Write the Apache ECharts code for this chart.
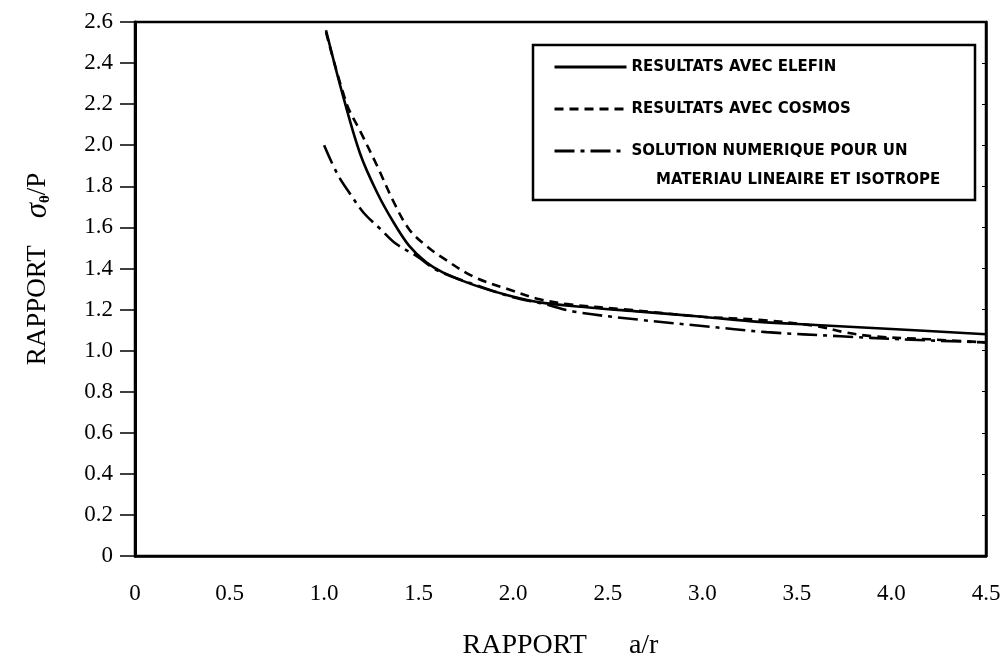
<!DOCTYPE html>
<html>
<head>
<meta charset="utf-8">
<script src="https://cdn.jsdelivr.net/npm/echarts@6/dist/echarts.min.js"></script>
<style>
  html, body { margin: 0; padding: 0; background: #fff; }
  #chart { width: 1008px; height: 665px; }
</style>
</head>
<body>
<div id="chart"></div>
<script>
// valeurs
const elefinX = [1.01, 1.10, 1.19, 1.28, 1.37, 1.45, 1.54, 1.63, 1.79, 1.97, 2.14, 2.40, 2.67, 3.00, 3.30, 3.60, 4.00, 4.50];
const elefinY = [2.56, 2.24, 1.96, 1.77, 1.62, 1.51, 1.43, 1.38, 1.32, 1.27, 1.235, 1.21, 1.19, 1.165, 1.14, 1.125, 1.105, 1.08];

const cosmosX = [1.01, 1.12, 1.19, 1.28, 1.37, 1.45, 1.54, 1.63, 1.79, 1.97, 2.14, 2.30, 2.60, 3.00, 3.30, 3.60, 3.75, 3.90, 4.20, 4.50];
const cosmosY = [2.55, 2.20, 2.07, 1.90, 1.72, 1.59, 1.51, 1.45, 1.36, 1.30, 1.25, 1.225, 1.20, 1.165, 1.15, 1.12, 1.09, 1.07, 1.055, 1.04];

const solutionX = [1.00, 1.07, 1.14, 1.21, 1.30, 1.38, 1.49, 1.60, 1.80, 2.00, 2.15, 2.32, 2.67, 3.00, 3.34, 3.73, 4.05, 4.50];
const solutionY = [2.00, 1.86, 1.76, 1.67, 1.59, 1.52, 1.46, 1.39, 1.32, 1.26, 1.23, 1.19, 1.15, 1.12, 1.09, 1.07, 1.055, 1.04];

const xTickLabels = ['0', '0.5', '1.0', '1.5', '2.0', '2.5', '3.0', '3.5', '4.0', '4.5'];
const yTickLabels = ['0', '0.2', '0.4', '0.6', '0.8', '1.0', '1.2', '1.4', '1.6', '1.8', '2.0', '2.2', '2.4', '2.6'];

const seriesNames = ['RESULTATS AVEC ELEFIN', 'RESULTATS AVEC COSMOS', 'SOLUTION NUMERIQUE POUR UN'];
const legendSecondLine = 'MATERIAU LINEAIRE ET ISOTROPE';

const pairs = (xs, ys) => xs.map((x, i) => [x, ys[i]]);

const serif = '"Liberation Serif", "Times New Roman", serif';
const legendFont = '"DejaVu Sans", sans-serif';
const chart = echarts.init(document.getElementById('chart'));

const lineSeries = (name, data, type) => ({
  name: name,
  type: 'line',
  data: data,
  smooth: 0.35,
  symbol: 'none',
  lineStyle: { color: '#000', width: 2.6, type: type },
  itemStyle: { color: '#000' },
  z: 3
});

chart.setOption({
  backgroundColor: '#fff',
  animation: false,
  grid: {
    left: 135, right: 22, top: 22, bottom: 109,
    show: true, borderColor: '#000', borderWidth: 2.5
  },
  xAxis: {
    type: 'value',
    min: 0, max: 4.5, interval: 0.5,
    name: 'RAPPORT      a/r',
    nameLocation: 'middle',
    nameGap: 76,
    nameTextStyle: { fontFamily: serif, fontSize: 28, color: '#000' },
    axisLine: { lineStyle: { color: '#000', width: 2.5 } },
    axisTick: { show: false },
    splitLine: { show: false },
    axisLabel: {
      margin: 26,
      fontFamily: serif, fontSize: 23, color: '#000',
      formatter: (v, i) => xTickLabels[i]
    }
  },
  yAxis: [{
    type: 'value',
    min: 0, max: 2.6, interval: 0.2,
    name: 'RAPPORT    {s|σ}{sub|θ}{n|/P}',
    nameLocation: 'middle',
    nameRotate: 90,
    nameGap: 82,
    nameTextStyle: {
      fontFamily: serif, fontSize: 27, color: '#000',
      padding: [0, 0, 0, 40],
      rich: {
        s: { fontFamily: serif, fontSize: 31, fontStyle: 'italic', color: '#000' },
        sub: { fontFamily: serif, fontSize: 15, fontWeight: 'bold', color: '#000', verticalAlign: 'bottom', padding: [14, 0, 0, 0] },
        n: { fontFamily: serif, fontSize: 27, color: '#000' }
      }
    },
    axisLine: { show: true, lineStyle: { color: '#000', width: 3 } },
    axisTick: { show: true, length: 15, lineStyle: { color: '#000', width: 1.5 } },
    splitLine: { show: false },
    axisLabel: {
      margin: 22,
      fontFamily: serif, fontSize: 23, color: '#000',
      formatter: (v, i) => yTickLabels[i]
    }
  }, {
    type: 'value',
    position: 'right',
    min: 0, max: 2.6, interval: 0.2,
    axisLine: { show: true, lineStyle: { color: '#000', width: 2.5 } },
    axisTick: { show: true, inside: true, length: 4, lineStyle: { color: '#000', width: 1 } },
    axisLabel: { show: false },
    splitLine: { show: false }
  }],
  legend: {
    orient: 'vertical',
    left: 553,
    top: 57,
    itemWidth: 72,
    itemHeight: 20,
    itemGap: 22,
    padding: 0,
    selectedMode: false,
    itemStyle: { opacity: 0 },
    lineStyle: { width: 3 },
    textStyle: {
      fontFamily: legendFont,
      fontWeight: 'bold', fontSize: 15, color: '#000',
      height: 20, lineHeight: 20,
      padding: [0, 0, 0, 0]
    },
    data: seriesNames.map(n => ({ name: n }))
  },
  graphic: [{
    type: 'rect',
    shape: { x: 533, y: 45, width: 442, height: 155 },
    style: { fill: null, stroke: '#000', lineWidth: 2.5 },
    z: 10
  }, {
    type: 'text',
    x: 656, y: 180,
    style: {
      text: legendSecondLine,
      fontFamily: legendFont,
      fontWeight: 'bold', fontSize: 15, fill: '#000',
      verticalAlign: 'middle'
    },
    z: 10
  }],
  series: [
    lineSeries(seriesNames[0], pairs(elefinX, elefinY), 'solid'),
    lineSeries(seriesNames[1], pairs(cosmosX, cosmosY), [9, 6]),
    lineSeries(seriesNames[2], pairs(solutionX, solutionY), [20, 6, 4, 6])
  ]
});
</script>
</body>
</html>
